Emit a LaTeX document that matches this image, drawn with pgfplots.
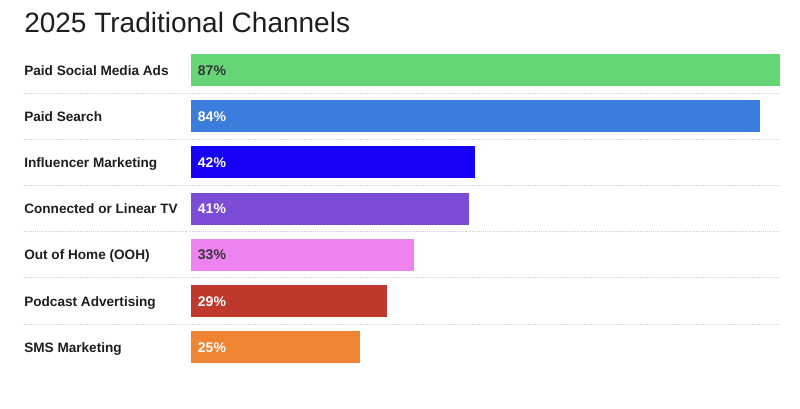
\documentclass[border=0pt]{standalone}
\usepackage{fontspec}
\setmainfont{Liberation Sans}
\usepackage{pgfplots}
\pgfplotsset{compat=1.18}

\definecolor{cGreen}{RGB}{102,213,117}
\definecolor{cBlue}{RGB}{59,125,221}
\definecolor{cDeep}{RGB}{22,0,245}
\definecolor{cPurple}{RGB}{123,77,214}
\definecolor{cPink}{RGB}{238,130,240}
\definecolor{cRed}{RGB}{191,56,44}
\definecolor{cOrange}{RGB}{239,133,51}
\definecolor{cInk}{RGB}{30,30,30}
\definecolor{cSep}{RGB}{210,210,210}

\pgfplotsset{
  barrow/.style={xbar, bar width=24pt, bar shift=0pt, draw=none, fill=#1},
  vallabel/.style={draw=none, mark=none, point meta=explicit,
    nodes near coords={\pgfmathprintnumber{\pgfplotspointmeta}\%},
    nodes near coords style={anchor=base west, inner sep=0pt, xshift=5pt, yshift=-3.8pt,
      font=\fontsize{10.5pt}{12pt}\selectfont\bfseries, text=#1}},
}

\begin{document}
\begin{tikzpicture}
\path[use as bounding box] (0,0) rectangle (600pt,306pt);
\node[anchor=base west, inner sep=0pt, text=cInk,
      font=\fontsize{21pt}{24pt}\selectfont] at (18pt,281.25pt) {2025 Traditional Channels};

\begin{axis}[
  at={(143.25pt,28.3pt)}, anchor=south west,
  scale only axis, width=441.75pt, height=242.55pt,
  xmin=0, xmax=87, ymin=-0.5, ymax=6.5, y dir=reverse,
  clip=false,
  /pgf/number format/assume math mode=true,
  axis line style={draw=none}, tick style={draw=none},
  major tick length=0pt,
  xtick=\empty,
  ytick={0,...,6},
  yticklabels={Paid Social Media Ads, Paid Search, Influencer Marketing,
    Connected or Linear TV, Out of Home (OOH), Podcast Advertising, SMS Marketing},
  yticklabel style={anchor=base west, inner sep=0pt, xshift=-125.25pt, yshift=-3.8pt,
    text=cInk, font=\fontsize{10.2pt}{12pt}\selectfont\bfseries},
]
% dotted row separators
\pgfplotsinvokeforeach{0.5,1.5,2.5,3.5,4.5,5.5}{
  \draw[cSep, line width=0.7pt, dash pattern=on 0.7pt off 0.7pt]
    (axis cs:-24.67,#1) -- (axis cs:87,#1);
}

\addplot[barrow=cGreen]  coordinates {(87,0)};
\addplot[barrow=cBlue]   coordinates {(84,1)};
\addplot[barrow=cDeep]   coordinates {(42,2)};
\addplot[barrow=cPurple] coordinates {(41,3)};
\addplot[barrow=cPink]   coordinates {(33,4)};
\addplot[barrow=cRed]    coordinates {(29,5)};
\addplot[barrow=cOrange] coordinates {(25,6)};

\addplot[vallabel=cInk!90]  coordinates {(0,0) [87]};
\addplot[vallabel=white]    coordinates {(0,1) [84]};
\addplot[vallabel=white]    coordinates {(0,2) [42]};
\addplot[vallabel=white]    coordinates {(0,3) [41]};
\addplot[vallabel=cInk!90]  coordinates {(0,4) [33]};
\addplot[vallabel=white]    coordinates {(0,5) [29]};
\addplot[vallabel=white]    coordinates {(0,6) [25]};
\end{axis}
\end{tikzpicture}
\end{document}
